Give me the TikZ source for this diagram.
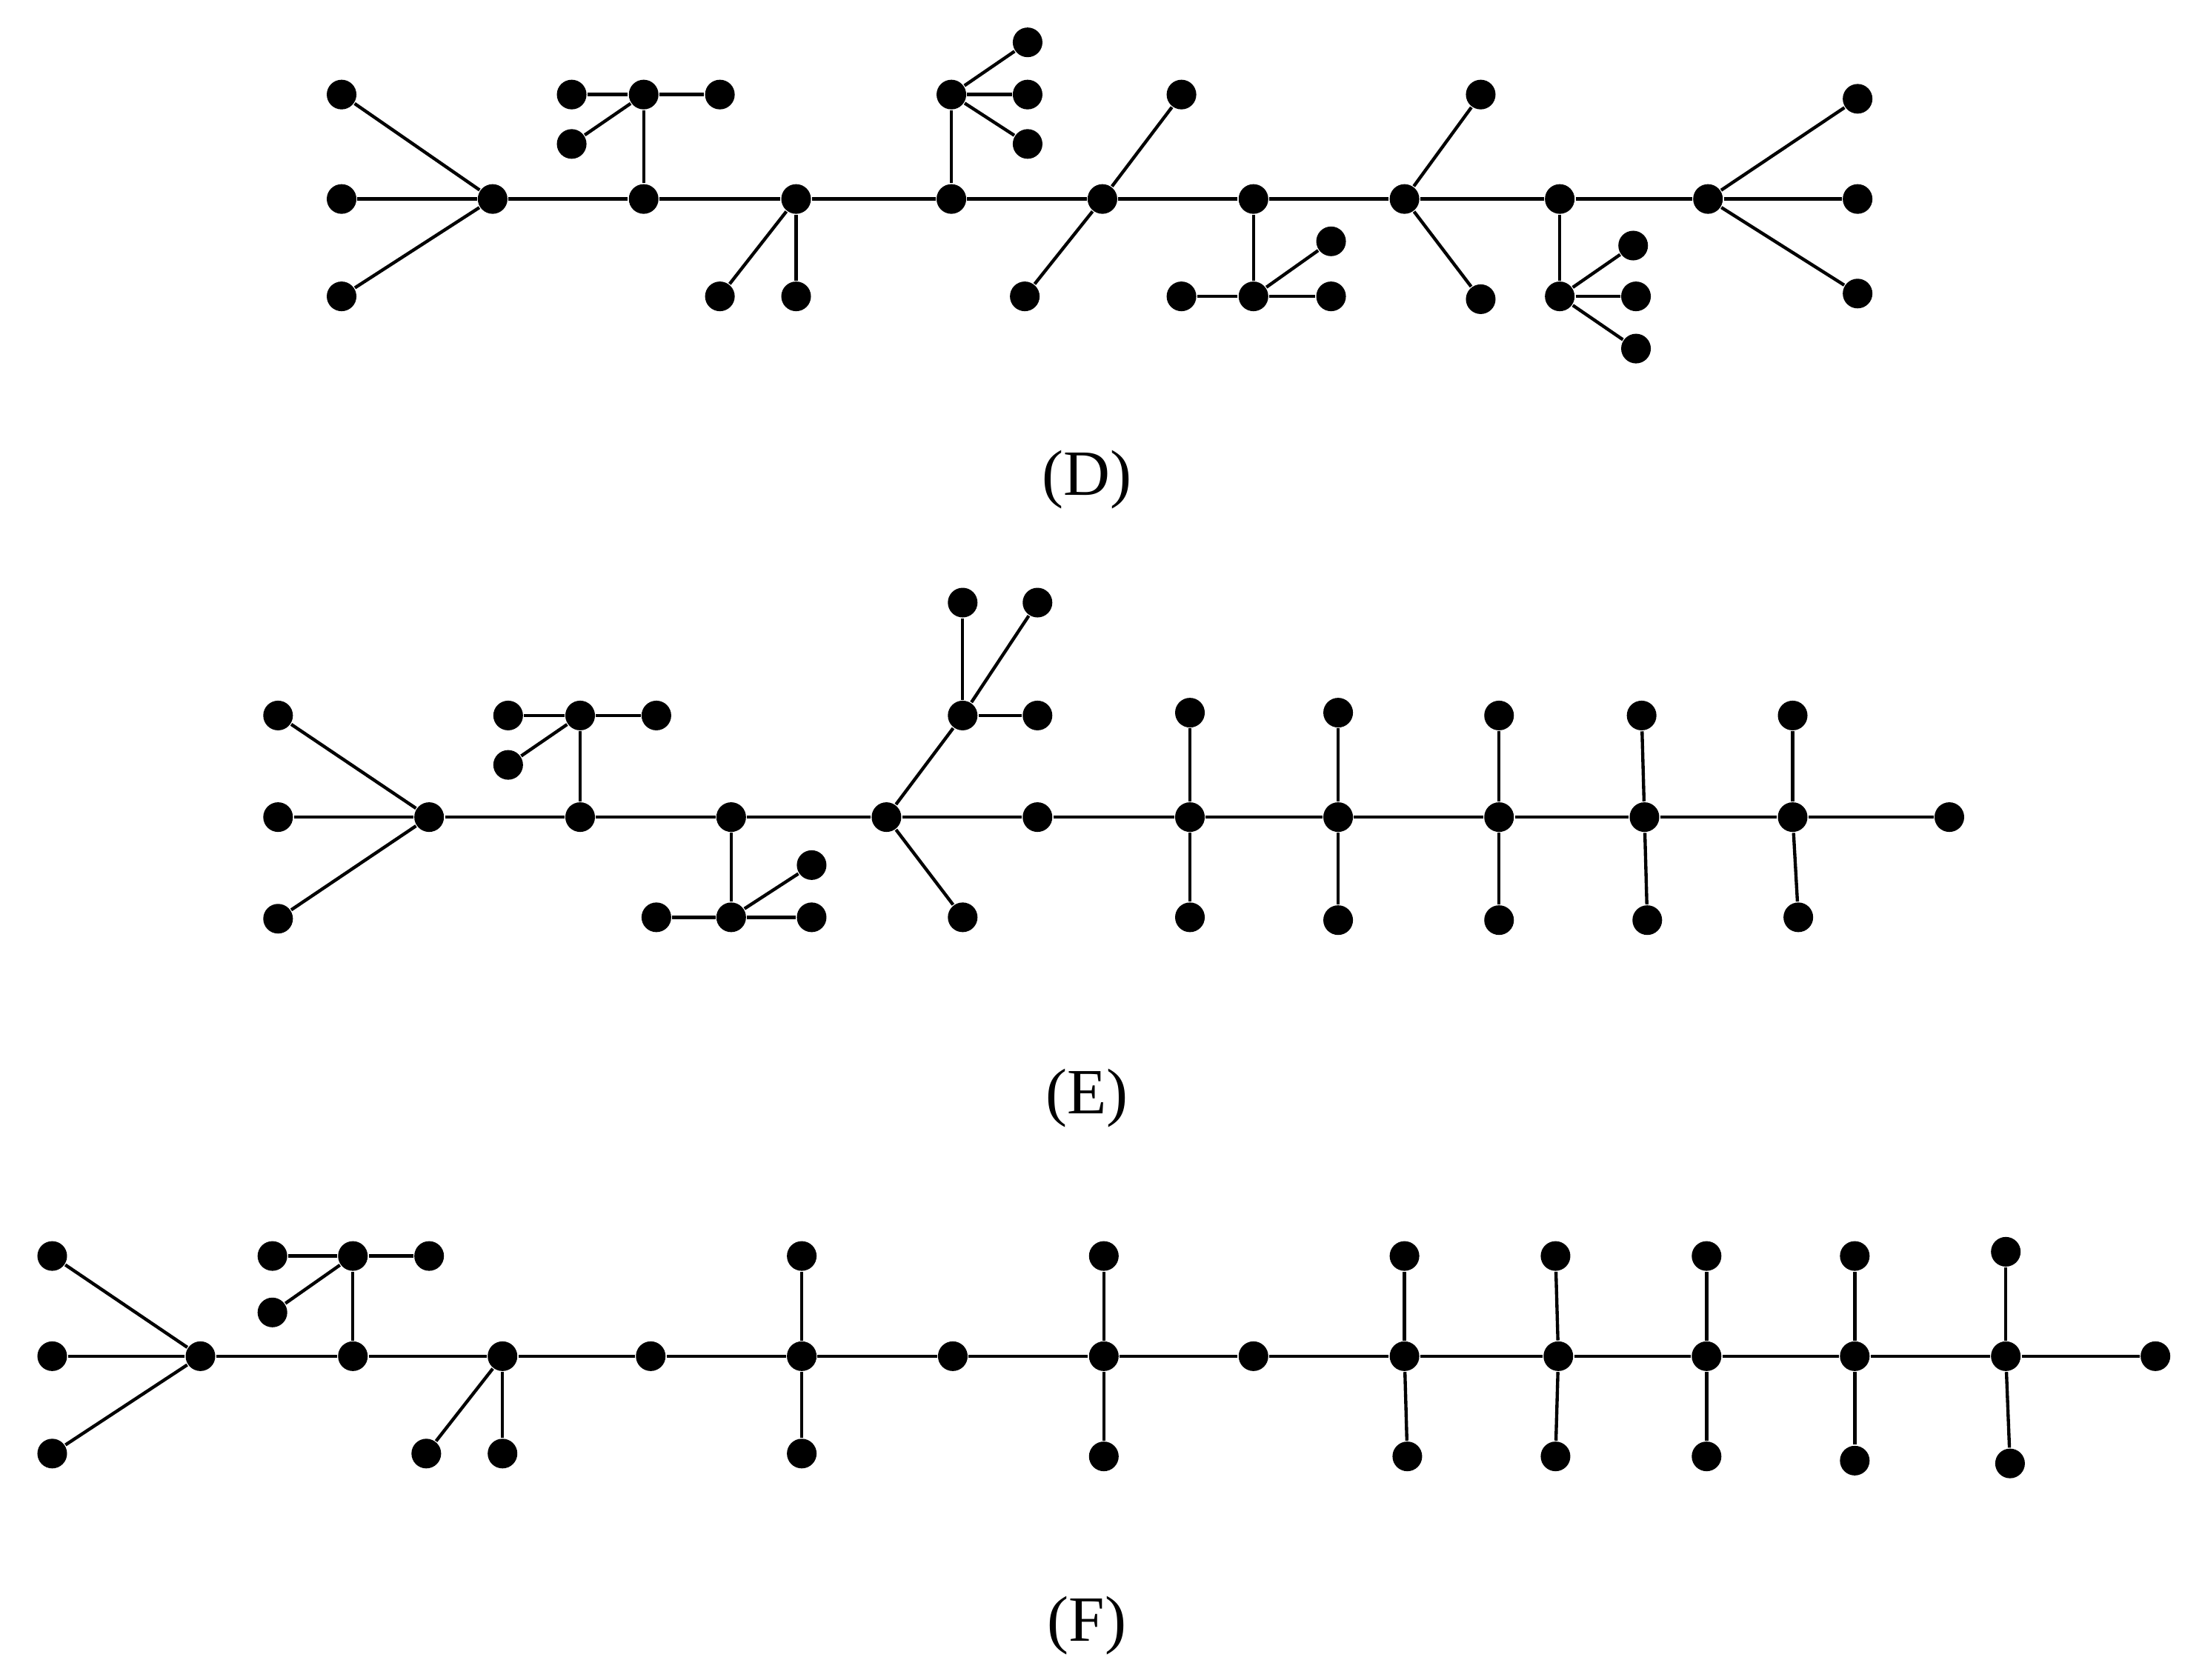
\documentclass[tikz,border=0pt]{standalone}
\usepackage{fontspec}
\setmainfont{Liberation Serif}
\begin{document}
\begin{tikzpicture}[x=0.01cm,y=-0.01cm,
  dot/.style={circle,fill=black,draw=none,minimum size=0.21cm,inner sep=0pt},
  edge/.style={line width=0.65pt},
  lbl/.style={font=\fontsize{13}{15}\selectfont}]
\useasboundingbox (0,0) rectangle (1560,1190);
% ---------- D ----------
\foreach \n/\x/\y in {dA/349/141,dB/456/141,dC/564/141,dD/674/141,dE/781/141,dF/888/141,dG/995/141,dH/1105/141,dI/1210/141,
 da1/242/67,da2/242/141,da3/242/210,db0/456/67,db1/405/67,db2/510/67,db3/405/102,dc1/564/210,dc2/510/210,
 dd0/674/67,dd1/728/30,dd2/728/67,dd3/728/102,de1/837/67,de2/726/210,df0/888/210,df1/837/210,df2/943/210,df3/943/171,
 dg1/1049/67,dg2/1049/212,dh0/1105/210,dh1/1157/174,dh2/1159/210,dh3/1159/247,di1/1316/70,di2/1316/141,di3/1316/208}
 \node[dot] (\n) at (\x,\y) {};
\foreach \a/\b in {dA/dB,dB/dC,dC/dD,dD/dE,dE/dF,dF/dG,dG/dH,dH/dI,dA/da1,dA/da2,dA/da3,dB/db0,db0/db1,db0/db2,db0/db3,
 dC/dc1,dC/dc2,dD/dd0,dd0/dd1,dd0/dd2,dd0/dd3,dE/de1,dE/de2,dF/df0,df0/df1,df0/df2,df0/df3,dG/dg1,dG/dg2,
 dH/dh0,dh0/dh1,dh0/dh2,dh0/dh3,dI/di1,dI/di2,dI/di3}
 \draw[edge] (\a) -- (\b);
\node[lbl] (labD) at (770,340) {(D)};
% ---------- E ----------
\foreach \n/\x/\y in {eA/304/579,eB/411/579,eC/518/579,eD/628/579,eE/735/579,eF/843/579,eG/948/579,eH/1062/579,eI/1165/579,eJ/1270/579,eK/1381/579,
 ea1/197/507,ea2/197/579,ea3/197/651,eb0/411/507,eb1/360/507,eb2/465/507,eb3/360/542,ec0/518/650,ec1/465/650,ec2/575/650,ec3/575/613,
 ed0/682/507,ed1/682/427,ed2/735/427,ed3/735/507,ed4/682/650,ef1/843/505,ef2/843/650,eg1/948/505,eg2/948/652,eh1/1062/507,eh2/1062/652,
 ei1/1163/507,ei2/1167/652,ej1/1270/507,ej2/1274/650}
 \node[dot] (\n) at (\x,\y) {};
\foreach \a/\b in {eA/eB,eB/eC,eC/eD,eD/eE,eE/eF,eF/eG,eG/eH,eH/eI,eI/eJ,eJ/eK,eA/ea1,eA/ea2,eA/ea3,eB/eb0,eb0/eb1,eb0/eb2,eb0/eb3,
 eC/ec0,ec0/ec1,ec0/ec2,ec0/ec3,eD/ed0,ed0/ed1,ed0/ed2,ed0/ed3,eD/ed4,eF/ef1,eF/ef2,eG/eg1,eG/eg2,eH/eh1,eH/eh2,eI/ei1,eI/ei2,eJ/ej1,eJ/ej2}
 \draw[edge] (\a) -- (\b);
\node[lbl] (labE) at (770,778) {(E)};
% ---------- F ----------
\foreach \n/\x/\y in {fA/142/961,fB/250/961,fC/356/961,fD/461/961,fE/568/961,fF/675/961,fG/782/961,fH/888/961,fI/995/961,fJ/1104/961,fK/1209/961,fL/1314/961,fM/1421/961,fN/1527/961,
 fa1/37/890,fa2/37/961,fa3/37/1030,fb0/250/890,fb1/193/890,fb2/304/890,fb3/193/930,fc1/356/1030,fc2/302/1030,
 fe1/568/890,fe2/568/1030,fg1/782/890,fg2/782/1032,fi1/995/890,fi2/997/1032,fj1/1102/890,fj2/1102/1032,
 fk1/1209/890,fk2/1209/1032,fl1/1314/890,fl2/1314/1035,fm1/1421/887,fm2/1424/1037}
 \node[dot] (\n) at (\x,\y) {};
\foreach \a/\b in {fA/fB,fB/fC,fC/fD,fD/fE,fE/fF,fF/fG,fG/fH,fH/fI,fI/fJ,fJ/fK,fK/fL,fL/fM,fM/fN,fA/fa1,fA/fa2,fA/fa3,
 fB/fb0,fb0/fb1,fb0/fb2,fb0/fb3,fC/fc1,fC/fc2,fE/fe1,fE/fe2,fG/fg1,fG/fg2,fI/fi1,fI/fi2,fJ/fj1,fJ/fj2,fK/fk1,fK/fk2,fL/fl1,fL/fl2,fM/fm1,fM/fm2}
 \draw[edge] (\a) -- (\b);
\node[lbl] (labF) at (770,1152) {(F)};
\end{tikzpicture}
\end{document}
